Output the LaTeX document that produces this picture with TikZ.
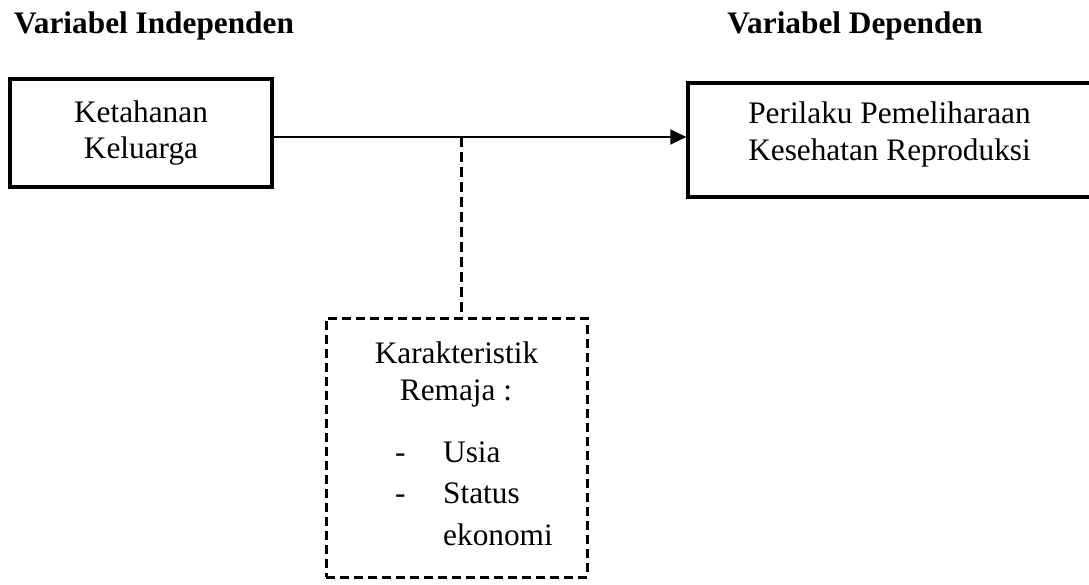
\documentclass[tikz,border=0pt]{standalone}
\usepackage{fontspec}
\setmainfont{Liberation Serif}
\usetikzlibrary{arrows.meta}
\begin{document}
\begin{tikzpicture}[x=1pt,y=-1pt,
  txt/.style={inner sep=0pt, font=\fontsize{31.3}{36}\selectfont},
  ttl/.style={inner sep=0pt, font=\fontsize{31.3}{36}\selectfont\bfseries},
  solidbox/.style={draw, line width=3.3pt, inner sep=0pt},
  dashbox/.style={draw, line width=3pt, dash pattern=on 9pt off 5pt, inner sep=0pt},
  dashline/.style={line width=3pt, dash pattern=on 10pt off 5pt},
  arrowline/.style={line width=1.8pt, -{Triangle[length=16pt,width=15pt]}},
]
\useasboundingbox (0,0) rectangle (1089,584);
\clip (0,0) rectangle (1089,584);

% titles
\node[ttl, anchor=base west] (tind) at (14,33) {Variabel Independen};
\node[ttl, anchor=base east] (tdep) at (983,33) {Variabel Dependen};

% independent box
\node[solidbox, minimum width=262pt, minimum height=108pt] (ind) at (141,133) {};
\node[txt, anchor=base] (ind1) at (141,122) {Ketahanan};
\node[txt, anchor=base] (ind2) at (141,158) {Keluarga};

% dependent box
\node[solidbox, minimum width=403pt, minimum height=114pt] (dep) at (889.5,140) {};
\node[txt, anchor=base] (dep1) at (889.5,123) {Perilaku Pemeliharaan};
\node[txt, anchor=base] (dep2) at (889.5,160) {Kesehatan Reproduksi};

% moderator box
\node[dashbox, minimum width=261pt, minimum height=259pt] (kar) at (456.5,447.5) {};
\node[txt, anchor=base] (kar1) at (456.5,363) {Karakteristik};
\node[txt, anchor=base] (kar2) at (456,400) {Remaja :};
\node[txt, anchor=base west] (d1) at (395,462) {-};
\node[txt, anchor=base west] (it1) at (443,462) {Usia};
\node[txt, anchor=base west] (d2) at (395,503) {-};
\node[txt, anchor=base west] (it2) at (443,503) {Status};
\node[txt, anchor=base west] (it3) at (443,545) {ekonomi};

% connectors
\coordinate (j) at (461,137);
\draw[arrowline] (ind.east |- j) -- (dep.west |- j);
\draw[dashline] (j) -- (j |- kar.north);
\end{tikzpicture}
\end{document}
